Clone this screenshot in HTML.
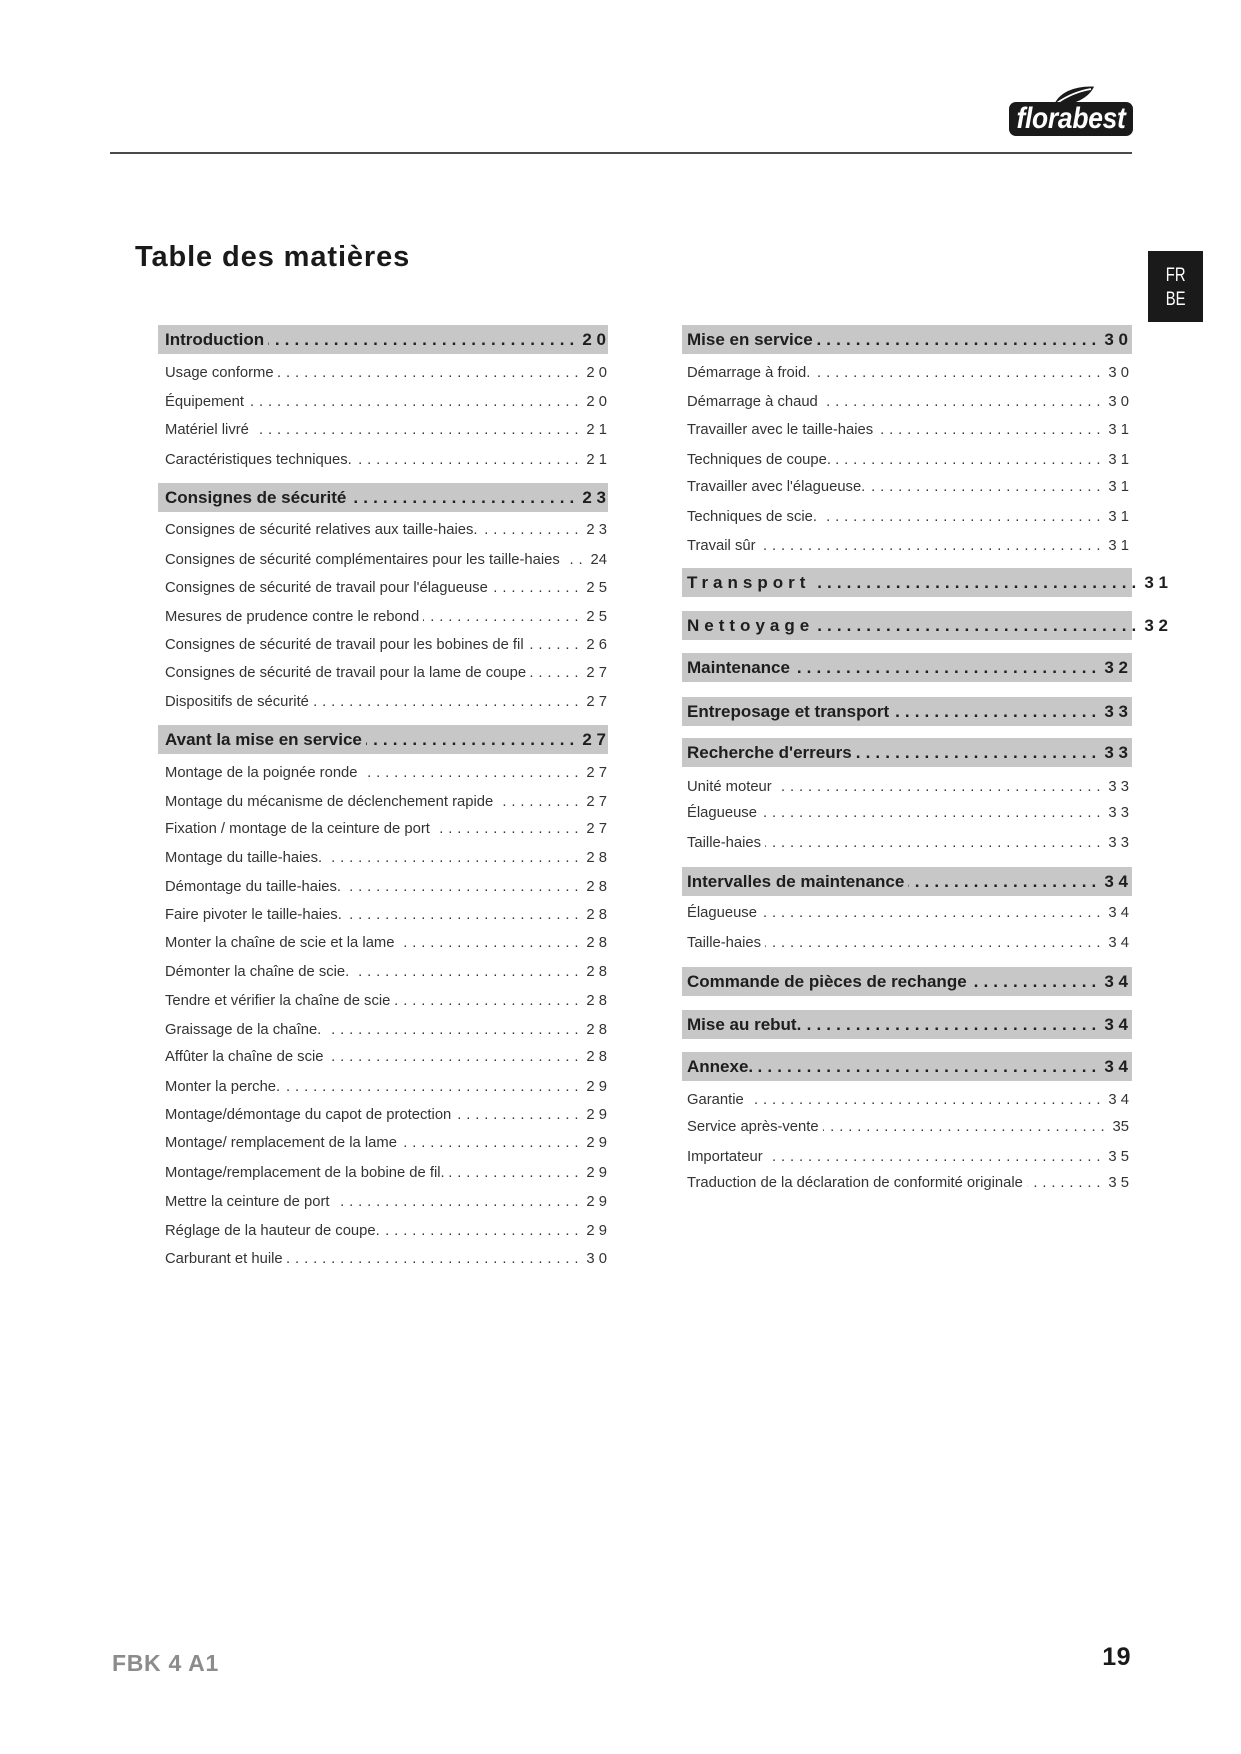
<!DOCTYPE html>
<html lang="fr">
<head>
<meta charset="utf-8">
<style>
  html,body{margin:0;padding:0}
  body{width:1241px;height:1754px;position:relative;background:#fff;font-family:"Liberation Sans",sans-serif;overflow:hidden}
  .bar{position:absolute;height:29px;background:#c7c7c7}
  .r{position:absolute;display:flex;white-space:nowrap;font-size:14.8px;line-height:20px;height:20px;color:#333}
  .r .t,.r .n{flex:0 0 auto}
  .r .d{flex:1 1 0;min-width:0;overflow:hidden;direction:rtl;margin:0 3px 0 4px;letter-spacing:4.9px}
  .r.h{font-weight:bold;font-size:17px;line-height:29px;height:29px;color:#1e1e1e}
  .r.h .d{letter-spacing:5.1px}
  .sp{letter-spacing:5px}
  .L{left:165px;width:442px}
  .R{left:687px;width:442px}
  .LH{left:165px;width:441px}
  .RH{left:687px;width:441px}
  .RX{left:687px;width:481px}
</style>
</head>
<body>

<!-- header logo -->
<svg style="position:absolute;left:1050px;top:84px" width="48" height="24" viewBox="0 0 48 24">
  <path d="M3,22 C8,8 24,1 45,2 C40,14 24,23 3,22 Z" fill="#1a1a1a" stroke="#fff" stroke-width="1.2"/>
  <path d="M7,19 C17,12 29,7 41,5" fill="none" stroke="#fff" stroke-width="1.8"/>
</svg>
<div style="position:absolute;left:1009px;top:102px;width:124px;height:34px;background:#1a1a1a;border-radius:7px;text-align:center;overflow:hidden">
  <span style="display:inline-block;color:#fff;font-weight:bold;font-style:italic;font-size:30px;line-height:34px;transform:scaleX(0.88);transform-origin:center;letter-spacing:-0.3px">florabest</span>
</div>
<div style="position:absolute;left:110px;top:152px;width:1022px;height:2px;background:#4a4a4a"></div>

<!-- title -->
<div style="position:absolute;left:135px;top:239px;font-size:29px;line-height:36px;font-weight:bold;color:#1a1a1a;letter-spacing:0.9px;white-space:nowrap">Table des matières</div>

<!-- FR BE tab -->
<div style="position:absolute;left:1148px;top:251px;width:55px;height:71px;background:#1a1a1a"></div>
<div style="position:absolute;left:1148px;top:264px;width:55px;text-align:center;color:#fff;font-size:19px;line-height:24px"><span style="display:inline-block;transform:scaleX(0.78)">FR</span></div>
<div style="position:absolute;left:1148px;top:288px;width:55px;text-align:center;color:#fff;font-size:19px;line-height:24px"><span style="display:inline-block;transform:scaleX(0.78)">BE</span></div>

<!-- LEFT COLUMN bars -->
<div class="bar" style="left:158px;top:325px;width:450px"></div>
<div class="bar" style="left:158px;top:483px;width:450px"></div>
<div class="bar" style="left:158px;top:725px;width:450px"></div>

<!-- RIGHT COLUMN bars -->
<div class="bar" style="left:682px;top:325px;width:450px"></div>
<div class="bar" style="left:682px;top:568px;width:450px"></div>
<div class="bar" style="left:682px;top:611px;width:450px"></div>
<div class="bar" style="left:682px;top:653px;width:450px"></div>
<div class="bar" style="left:682px;top:697px;width:450px"></div>
<div class="bar" style="left:682px;top:738px;width:450px"></div>
<div class="bar" style="left:682px;top:867px;width:450px"></div>
<div class="bar" style="left:682px;top:967px;width:450px"></div>
<div class="bar" style="left:682px;top:1010px;width:450px"></div>
<div class="bar" style="left:682px;top:1052px;width:450px"></div>

<!-- LEFT COLUMN rows -->
<div class="r h LH" style="top:325px"><span class="t">Introduction</span><span class="d">......................................................................</span><span class="n">2 0</span></div>
<div class="r L" style="top:363px"><span class="t">Usage conforme</span><span class="d">......................................................................</span><span class="n">2 0</span></div>
<div class="r L" style="top:392px"><span class="t">Équipement</span><span class="d">......................................................................</span><span class="n">2 0</span></div>
<div class="r L" style="top:420px"><span class="t">Matériel livré</span><span class="d">......................................................................</span><span class="n">2 1</span></div>
<div class="r L" style="top:450px"><span class="t">Caractéristiques techniques.</span><span class="d">......................................................................</span><span class="n">2 1</span></div>

<div class="r h LH" style="top:483px"><span class="t">Consignes de sécurité</span><span class="d">......................................................................</span><span class="n">2 3</span></div>
<div class="r L" style="top:520px"><span class="t">Consignes de sécurité relatives aux taille-haies.</span><span class="d">......................................................................</span><span class="n">2 3</span></div>
<div class="r L" style="top:550px"><span class="t">Consignes de sécurité complémentaires pour les taille-haies</span><span class="d">......................................................................</span><span class="n">24</span></div>
<div class="r L" style="top:578px"><span class="t">Consignes de sécurité de travail pour l'élagueuse</span><span class="d">......................................................................</span><span class="n">2 5</span></div>
<div class="r L" style="top:607px"><span class="t">Mesures de prudence contre le rebond</span><span class="d">......................................................................</span><span class="n">2 5</span></div>
<div class="r L" style="top:635px"><span class="t">Consignes de sécurité de travail pour les bobines de fil</span><span class="d">......................................................................</span><span class="n">2 6</span></div>
<div class="r L" style="top:663px"><span class="t">Consignes de sécurité de travail pour la lame de coupe</span><span class="d">......................................................................</span><span class="n">2 7</span></div>
<div class="r L" style="top:692px"><span class="t">Dispositifs de sécurité</span><span class="d">......................................................................</span><span class="n">2 7</span></div>

<div class="r h LH" style="top:725px"><span class="t">Avant la mise en service</span><span class="d">......................................................................</span><span class="n">2 7</span></div>
<div class="r L" style="top:763px"><span class="t">Montage de la poignée ronde</span><span class="d">......................................................................</span><span class="n">2 7</span></div>
<div class="r L" style="top:792px"><span class="t">Montage du mécanisme de déclenchement rapide</span><span class="d">......................................................................</span><span class="n">2 7</span></div>
<div class="r L" style="top:819px"><span class="t">Fixation / montage de la ceinture de port</span><span class="d">......................................................................</span><span class="n">2 7</span></div>
<div class="r L" style="top:848px"><span class="t">Montage du taille-haies.</span><span class="d">......................................................................</span><span class="n">2 8</span></div>
<div class="r L" style="top:877px"><span class="t">Démontage du taille-haies.</span><span class="d">......................................................................</span><span class="n">2 8</span></div>
<div class="r L" style="top:905px"><span class="t">Faire pivoter le taille-haies.</span><span class="d">......................................................................</span><span class="n">2 8</span></div>
<div class="r L" style="top:933px"><span class="t">Monter la chaîne de scie et la lame</span><span class="d">......................................................................</span><span class="n">2 8</span></div>
<div class="r L" style="top:962px"><span class="t">Démonter la chaîne de scie.</span><span class="d">......................................................................</span><span class="n">2 8</span></div>
<div class="r L" style="top:991px"><span class="t">Tendre et vérifier la chaîne de scie</span><span class="d">......................................................................</span><span class="n">2 8</span></div>
<div class="r L" style="top:1020px"><span class="t">Graissage de la chaîne.</span><span class="d">......................................................................</span><span class="n">2 8</span></div>
<div class="r L" style="top:1047px"><span class="t">Affûter la chaîne de scie</span><span class="d">......................................................................</span><span class="n">2 8</span></div>
<div class="r L" style="top:1077px"><span class="t">Monter la perche.</span><span class="d">......................................................................</span><span class="n">2 9</span></div>
<div class="r L" style="top:1105px"><span class="t">Montage/démontage du capot de protection</span><span class="d">......................................................................</span><span class="n">2 9</span></div>
<div class="r L" style="top:1133px"><span class="t">Montage/ remplacement de la lame</span><span class="d">......................................................................</span><span class="n">2 9</span></div>
<div class="r L" style="top:1163px"><span class="t">Montage/remplacement de la bobine de fil.</span><span class="d">......................................................................</span><span class="n">2 9</span></div>
<div class="r L" style="top:1192px"><span class="t">Mettre la ceinture de port</span><span class="d">......................................................................</span><span class="n">2 9</span></div>
<div class="r L" style="top:1221px"><span class="t">Réglage de la hauteur de coupe.</span><span class="d">......................................................................</span><span class="n">2 9</span></div>
<div class="r L" style="top:1249px"><span class="t">Carburant et huile</span><span class="d">......................................................................</span><span class="n">3 0</span></div>

<!-- RIGHT COLUMN rows -->
<div class="r h RH" style="top:325px"><span class="t">Mise en service</span><span class="d">......................................................................</span><span class="n">3 0</span></div>
<div class="r R" style="top:363px"><span class="t">Démarrage à froid.</span><span class="d">......................................................................</span><span class="n">3 0</span></div>
<div class="r R" style="top:392px"><span class="t">Démarrage à chaud</span><span class="d">......................................................................</span><span class="n">3 0</span></div>
<div class="r R" style="top:420px"><span class="t">Travailler avec le taille-haies</span><span class="d">......................................................................</span><span class="n">3 1</span></div>
<div class="r R" style="top:450px"><span class="t">Techniques de coupe.</span><span class="d">......................................................................</span><span class="n">3 1</span></div>
<div class="r R" style="top:477px"><span class="t">Travailler avec l'élagueuse.</span><span class="d">......................................................................</span><span class="n">3 1</span></div>
<div class="r R" style="top:507px"><span class="t">Techniques de scie.</span><span class="d">......................................................................</span><span class="n">3 1</span></div>
<div class="r R" style="top:536px"><span class="t">Travail sûr</span><span class="d">......................................................................</span><span class="n">3 1</span></div>

<div class="r h RX" style="top:568px"><span class="t sp">Transport</span><span class="d">......................................................................</span><span class="n">3 1</span></div>
<div class="r h RX" style="top:611px"><span class="t sp">Nettoyage</span><span class="d">......................................................................</span><span class="n">3 2</span></div>
<div class="r h RH" style="top:653px"><span class="t">Maintenance</span><span class="d">......................................................................</span><span class="n">3 2</span></div>
<div class="r h RH" style="top:697px"><span class="t">Entreposage et transport</span><span class="d">......................................................................</span><span class="n">3 3</span></div>
<div class="r h RH" style="top:738px"><span class="t">Recherche d'erreurs</span><span class="d">......................................................................</span><span class="n">3 3</span></div>
<div class="r R" style="top:777px"><span class="t">Unité moteur</span><span class="d">......................................................................</span><span class="n">3 3</span></div>
<div class="r R" style="top:803px"><span class="t">Élagueuse</span><span class="d">......................................................................</span><span class="n">3 3</span></div>
<div class="r R" style="top:833px"><span class="t">Taille-haies</span><span class="d">......................................................................</span><span class="n">3 3</span></div>
<div class="r h RH" style="top:867px"><span class="t">Intervalles de maintenance</span><span class="d">......................................................................</span><span class="n">3 4</span></div>
<div class="r R" style="top:903px"><span class="t">Élagueuse</span><span class="d">......................................................................</span><span class="n">3 4</span></div>
<div class="r R" style="top:933px"><span class="t">Taille-haies</span><span class="d">......................................................................</span><span class="n">3 4</span></div>
<div class="r h RH" style="top:967px"><span class="t">Commande de pièces de rechange</span><span class="d">......................................................................</span><span class="n">3 4</span></div>
<div class="r h RH" style="top:1010px"><span class="t">Mise au rebut.</span><span class="d">......................................................................</span><span class="n">3 4</span></div>
<div class="r h RH" style="top:1052px"><span class="t">Annexe.</span><span class="d">......................................................................</span><span class="n">3 4</span></div>
<div class="r R" style="top:1090px"><span class="t">Garantie</span><span class="d">......................................................................</span><span class="n">3 4</span></div>
<div class="r R" style="top:1117px"><span class="t">Service après-vente</span><span class="d">......................................................................</span><span class="n">35</span></div>
<div class="r R" style="top:1147px"><span class="t">Importateur</span><span class="d">......................................................................</span><span class="n">3 5</span></div>
<div class="r R" style="top:1173px"><span class="t">Traduction de la déclaration de conformité originale</span><span class="d">......................................................................</span><span class="n">3 5</span></div>

<!-- footer -->
<div style="position:absolute;left:112px;top:1648px;font-size:23px;line-height:30px;font-weight:bold;color:#8c8c8c;letter-spacing:0.7px;white-space:nowrap">FBK 4 A1</div>
<div style="position:absolute;right:110px;top:1642px;font-size:25px;line-height:30px;font-weight:bold;color:#1a1a1a;letter-spacing:0.5px">19</div>

</body>
</html>
